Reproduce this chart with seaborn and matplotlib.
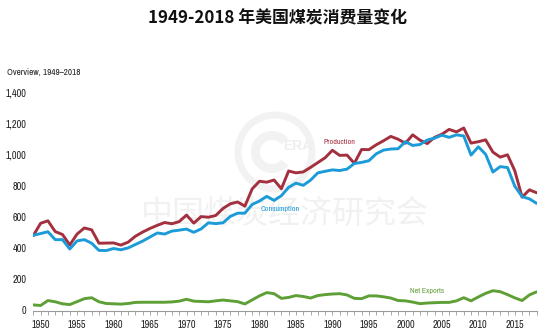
import numpy as np
import pandas as pd
import matplotlib
matplotlib.use("Agg")
import matplotlib.pyplot as plt
from matplotlib import font_manager
from matplotlib.patches import Circle, Wedge
from matplotlib.transforms import IdentityTransform
from matplotlib.ticker import MultipleLocator, FuncFormatter
import seaborn as sns

# US coal overview, million short tons
years = list(range(1949, 2019))
production = [
    481, 560, 576, 507, 488, 421, 491, 530, 518, 432,
    433, 434, 420, 439, 477, 504, 527, 547, 565, 557,
    571, 613, 561, 603, 599, 610, 655, 685, 697, 670,
    781, 830, 824, 838, 782, 896, 884, 890, 919, 950,
    981, 1029, 996, 998, 945, 1034, 1033, 1064, 1090, 1118,
    1100, 1074, 1128, 1094, 1072, 1112, 1132, 1163, 1147, 1172,
    1075, 1084, 1096, 1017, 985, 1000, 897, 728, 775, 756,
]
consumption = [
    483, 494, 506, 455, 455, 395, 447, 455, 432, 386,
    385, 398, 390, 402, 424, 446, 472, 498, 491, 510,
    516, 523, 502, 524, 563, 558, 563, 604, 625, 625,
    681, 703, 733, 707, 737, 791, 818, 804, 837, 884,
    894, 903, 899, 908, 944, 951, 962, 1006, 1030, 1037,
    1039, 1084, 1060, 1066, 1095, 1107, 1126, 1112, 1128, 1121,
    998, 1051, 1003, 889, 924, 918, 798, 731, 717, 688,
]
net_exports = [
    36, 32, 64, 56, 43, 38, 57, 76, 82, 56,
    45, 43, 41, 45, 52, 53, 53, 53, 53, 55,
    60, 72, 60, 58, 56, 62, 67, 62, 57, 42,
    68, 94, 115, 108, 78, 84, 96, 90, 80, 96,
    102, 106, 108, 100, 78, 76, 94, 94, 88, 80,
    64, 62, 54, 44, 48, 50, 52, 52, 62, 82,
    62, 87, 110, 127, 121, 102, 81, 64, 100, 120,
]
series_names = ["Production", "Consumption", "Net Exports"]
series_colors = ["#A3303E", "#1B9BD8", "#5E9F36"]
y_ticks = [0, 200, 400, 600, 800, 1000, 1200, 1400]
x_ticks = list(range(1950, 2019, 5))

sns.set_theme(style="white")

# narrow sans for the chart text, falling back to a regular one
installed = {f.name for f in font_manager.fontManager.ttflist}
narrow_choices = ["Liberation Sans Narrow", "Arial Narrow", "Archivo Narrow",
                  "PT Sans Narrow", "Roboto Condensed", "Pragati Narrow",
                  "Encode Sans Condensed", "Open Sans Condensed"]
narrow = next((n for n in narrow_choices if n in installed), None)
if narrow:
    plt.rcParams["font.family"] = [narrow, "DejaVu Sans"]
    tick_size, note_size, label_size = 7.4, 6.6, 5.7
else:
    plt.rcParams["font.family"] = ["Liberation Sans", "DejaVu Sans"]
    tick_size, note_size, label_size = 6.4, 5.6, 5.0

df = pd.DataFrame({
    "year": years * 3,
    "value": production + consumption + net_exports,
    "series": [series_names[0]] * len(years)
              + [series_names[1]] * len(years)
              + [series_names[2]] * len(years),
})

W, H = 554, 335
fig = plt.figure(figsize=(W / 100, H / 100), dpi=100)
ax = fig.add_axes([33.3 / W, (H - 310.5) / H, 503.4 / W, 218 / H])

# faint society watermark drawn underneath the series
wm_color = "#f2f2f2"
ring = Circle((275, H - 152), 37, transform=IdentityTransform(),
              fill=False, lw=5, ec=wm_color, zorder=0.5, clip_on=False)
ax.add_artist(ring)
core = Wedge((272, H - 152), 21, 40, 320, width=9,
             transform=IdentityTransform(), fc=wm_color, ec="none",
             zorder=0.5, clip_on=False)
ax.add_artist(core)
ax.text(298 / W, 1 - 146 / H, "ERA", transform=fig.transFigure,
        family=["Liberation Sans", "DejaVu Sans"],
        fontsize=10, fontweight="bold", color="#efefef",
        ha="center", va="center", zorder=0.6, clip_on=False)
ax.text(285 / W, 1 - 214 / H, "中国煤炭经济研究会", transform=fig.transFigure,
        family=["Noto Sans CJK SC", "DejaVu Sans"], fontsize=23,
        color="#f1f1f1", ha="center", va="center", zorder=0.6,
        clip_on=False)

sns.lineplot(data=df, x="year", y="value", hue="series",
             palette=dict(zip(series_names, series_colors)),
             hue_order=series_names, linewidth=2.1, legend=False, ax=ax,
             zorder=3)

ax.set_xlim(1949, 2018)
ax.set_ylim(0, 1400)
ax.set_xlabel("")
ax.set_ylabel("")

for side in ["top", "right", "left"]:
    ax.spines[side].set_visible(False)
ax.spines["bottom"].set_color("#9a9a9a")
ax.spines["bottom"].set_linewidth(0.8)

ax.xaxis.set_major_locator(plt.FixedLocator(x_ticks))
ax.xaxis.set_minor_locator(MultipleLocator(1))
ax.tick_params(axis="x", which="both", bottom=True, direction="out",
               length=3, width=0.6, color="#9a9a9a")
ax.tick_params(axis="x", which="major", labelsize=tick_size, pad=4,
               labelcolor="#222222")
ax.set_yticks(y_ticks)
ax.yaxis.set_major_formatter(FuncFormatter(lambda v, p: f"{int(v):,}"))
ax.tick_params(axis="y", left=False, length=0, labelsize=tick_size, pad=5,
               labelcolor="#222222")

ax.text(1991.0, 1082, "Production", color=series_colors[0],
        fontsize=label_size, ha="center", va="center", zorder=4)
ax.text(1982.9, 652, "Consumption", color=series_colors[1],
        fontsize=label_size, ha="center", va="center", zorder=4)
ax.text(2003.0, 125, "Net Exports", color=series_colors[2],
        fontsize=label_size, ha="center", va="center", zorder=4)

fig.text(7 / W, 1 - 72 / H, "Overview, 1949–2018", fontsize=note_size,
         color="#222222", ha="left", va="center")
fig.text(0.5, 1 - 18 / H, "1949-2018 年美国煤炭消费量变化",
         family=["Noto Sans CJK SC", "DejaVu Sans"], fontsize=12.2,
         fontweight="bold", color="#111111", ha="center", va="center")

fig.savefig("out.png", dpi=100)
